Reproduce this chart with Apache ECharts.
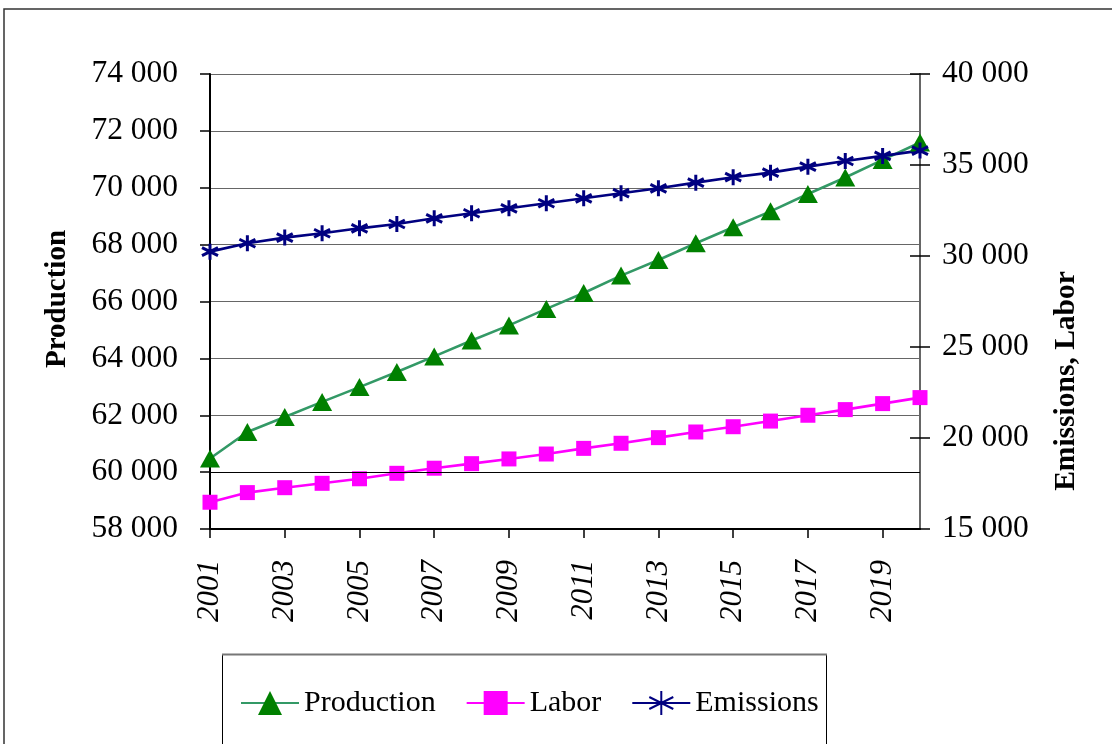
<!DOCTYPE html>
<html>
<head>
<meta charset="utf-8">
<script src="https://cdn.jsdelivr.net/npm/echarts@6/dist/echarts.min.js"></script>
<style>
  html, body { margin: 0; padding: 0; background: #fff; }
  #chart { width: 1112px; height: 744px; }
</style>
</head>
<body>
<div id="chart"></div>
<script>
// Years on the horizontal axis
const years = ['2001','2002','2003','2004','2005','2006','2007','2008','2009','2010',
               '2011','2012','2013','2014','2015','2016','2017','2018','2019','2020'];

// Production (left axis)
const production = [60480, 61410, 61940, 62470, 62990, 63520, 64070, 64630, 65160, 65740,
                    66300, 66910, 67460, 68050, 68610, 69170, 69780, 70360, 70980, 71590];

// Labor (right axis)
const labor = [16470, 17000, 17270, 17510, 17760, 18060, 18340, 18590, 18850, 19120,
               19430, 19710, 20020, 20330, 20620, 20930, 21250, 21560, 21890, 22220];

// Emissions (right axis)
const emissions = [30240, 30700, 31010, 31250, 31520, 31760, 32070, 32350, 32620, 32900,
                   33170, 33450, 33720, 34030, 34330, 34580, 34910, 35220, 35500, 35790];

// Axis ranges
const leftAxis = { min: 58000, max: 74000, interval: 2000 };
const rightAxis = { min: 15000, max: 40000, interval: 5000 };

const FONT = 'Liberation Serif';
const spaced = v => String(v).replace(/\B(?=(\d{3})+(?!\d))/g, ' ');

// Asterisk marker: vertical bar plus two diagonals
const asterisk = 'path://M7,0L7,14M0,3.5L14,10.5M0,10.5L14,3.5';

const chart = echarts.init(document.getElementById('chart'), null, { renderer: 'canvas' });

chart.setOption({
  animation: false,
  backgroundColor: '#fff',
  grid: { left: 210, right: 192, top: 74, bottom: 215, containLabel: false },
  graphic: [
    { type: 'rect', z: -10, shape: { x: 4, y: 9, width: 1200, height: 1000 },
      style: { fill: 'none', stroke: '#333', lineWidth: 1.5 } },
    { type: 'rect', z: -5, shape: { x: 222.5, y: 654.5, width: 604, height: 200 },
      style: { fill: '#fff', stroke: '#000', lineWidth: 1 } },
    { type: 'line', z: -4, shape: { x1: 222, y1: 654.5, x2: 827, y2: 654.5 },
      style: { stroke: '#777', lineWidth: 2 } },
    { type: 'text', x: 58, y: 299, rotation: Math.PI / 2,
      style: { text: 'Production', font: 'bold 29px "' + FONT + '"', fill: '#000',
               align: 'center', verticalAlign: 'middle' } },
    { type: 'text', x: 1066, y: 381, rotation: Math.PI / 2,
      style: { text: 'Emissions, Labor', font: 'bold 29.5px "' + FONT + '"', fill: '#000',
               align: 'center', verticalAlign: 'middle' } }
  ],
  legend: {
    left: 240, top: 688, padding: 0,
    itemWidth: 58, itemHeight: 30, itemGap: 30,
    textStyle: { fontFamily: FONT, fontSize: 30, color: '#000', padding: [0, 0, 0, 0] },
    data: ['Production', 'Labor', 'Emissions']
  },
  xAxis: {
    type: 'category',
    data: years,
    boundaryGap: false,
    axisLine: { lineStyle: { color: '#000', width: 2 } },
    axisTick: { interval: 1, length: 9, lineStyle: { color: '#000', width: 1.5 } },
    axisLabel: { interval: 1, rotate: 90, margin: 31, fontFamily: FONT, fontSize: 31,
                 fontStyle: 'italic', color: '#000' },
    splitLine: { show: false }
  },
  yAxis: [
    {
      type: 'value', position: 'left', min: leftAxis.min, max: leftAxis.max, interval: leftAxis.interval,
      axisLine: { show: true, lineStyle: { color: '#000', width: 2 } },
      axisTick: { show: true, length: 10, lineStyle: { color: '#000', width: 1.5 } },
      axisLabel: { margin: 32, fontFamily: FONT, fontSize: 31.5, color: '#000', formatter: spaced },
      splitLine: { show: true, lineStyle: { color: '#666', width: 1.2 } }
    },
    {
      type: 'value', position: 'right', min: rightAxis.min, max: rightAxis.max, interval: rightAxis.interval,
      axisLine: { show: true, lineStyle: { color: '#666', width: 2 } },
      axisTick: { show: true, length: 10, lineStyle: { color: '#000', width: 1.5 } },
      axisLabel: { margin: 22, fontFamily: FONT, fontSize: 31.5, color: '#000', formatter: spaced },
      splitLine: { show: false }
    },
    {
      // inner half of the crossing ticks on the right axis
      type: 'value', position: 'right', min: rightAxis.min, max: rightAxis.max, interval: rightAxis.interval,
      axisLine: { show: false },
      axisTick: { show: true, inside: true, length: 10, lineStyle: { color: '#000', width: 1.5 } },
      axisLabel: { show: false },
      splitLine: { show: false }
    }
  ],
  series: [
    {
      name: 'Production', type: 'line', yAxisIndex: 0, data: production,
      symbol: 'triangle', symbolSize: [20, 18],
      lineStyle: { color: '#339966', width: 2.6 },
      itemStyle: { color: '#008000', borderWidth: 0 },
      markLine: {
        silent: true, symbol: ['none', 'none'], label: { show: false },
        lineStyle: { color: '#000', width: 1.2, type: 'solid' },
        data: [{ yAxis: 60000 }]
      }
    },
    {
      name: 'Labor', type: 'line', yAxisIndex: 1, data: labor,
      symbol: 'rect', symbolSize: 15,
      lineStyle: { color: '#ff00ff', width: 2.6 },
      itemStyle: { color: '#ff00ff', borderWidth: 0 }
    },
    {
      name: 'Emissions', type: 'line', yAxisIndex: 1, data: emissions,
      symbol: asterisk, symbolSize: 16,
      lineStyle: { color: '#000080', width: 2.6 },
      itemStyle: { color: 'none', borderColor: '#000080', borderWidth: 3 }
    }
  ]
});
</script>
</body>
</html>
